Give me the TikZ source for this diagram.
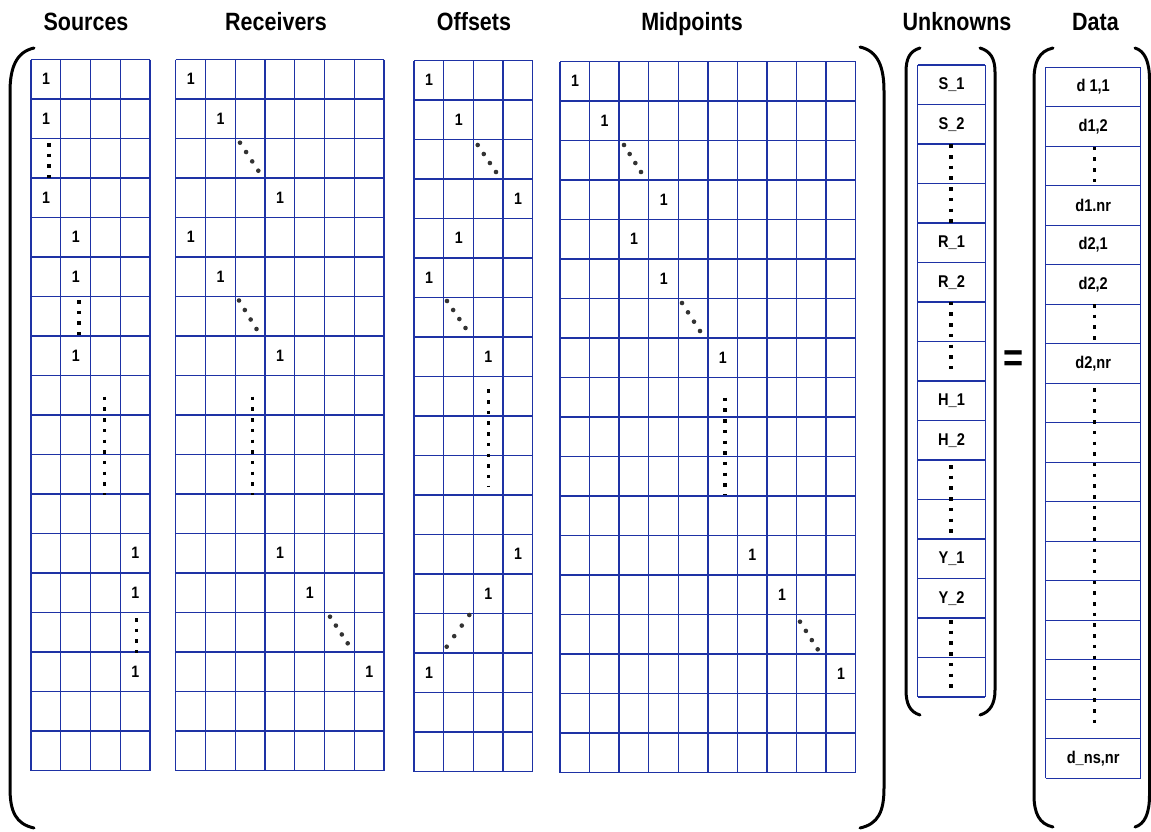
\documentclass[tikz,border=0pt]{standalone}
\usepackage{fontspec}
\setmainfont{Liberation Sans}[FakeStretch=0.86]
\usetikzlibrary{calc}
\definecolor{gridblue}{RGB}{30,50,165}
\newcommand{\diagdots}[2]{\foreach \t in {0,0.333,0.667,1} \fill[black!80] ($#1!\t!#2$) circle (2.3pt);}

\begin{document}
\begin{tikzpicture}[x=1pt, y=-1pt,
  gridline/.style={gridblue, line width=1.3pt},
  brk/.style={line width=3pt, line cap=round},
  vdots/.style={line width=3.5pt, dash pattern=on 3.5pt off 7.2pt},
  head/.style={font=\fontsize{25}{30}\selectfont\bfseries, anchor=base},
  one/.style={font=\fontsize{16.5}{18}\selectfont\bfseries},
  lbl/.style={font=\fontsize{17}{20}\selectfont\bfseries}]
\useasboundingbox (0,0) rectangle (1151,831);

% Headings
\node[head] (hsrc) at (86,30) {Sources};
\node[head] (hrec) at (276,30) {Receivers};
\node[head] (hoff) at (474,30) {Offsets};
\node[head] (hmid) at (692,30) {Midpoints};
\node[head] (hunk) at (957,30) {Unknowns};
\node[head] (hdat) at (1095.5,30) {Data};

% Grids: left/top/columns/rows/column width
\foreach \gx/\gy/\nc/\nr/\cw in {31/59.5/4/18/29.75, 175.7/59.5/7/18/29.75, 414/60.5/4/18/29.7,
    560/61.5/10/18/29.57, 917.7/65/1/16/67.6, 1045.7/67.3/1/18/95} {
  \foreach \i in {0,...,\nc}
    \draw[gridline] (\gx+\i*\cw, \gy) -- (\gx+\i*\cw, \gy+\nr*39.5);
  \foreach \j in {0,...,\nr}
    \draw[gridline] (\gx, \gy+\j*39.5) -- (\gx+\nc*\cw, \gy+\j*39.5);
}

% Sources entries
\foreach \r/\c [count=\k] in {0/0,1/0,3/0,4/1,5/1,7/1,12/3,13/3,15/3}
  \node[one] (s\k) at (31+\c*29.75+15, 59.5+\r*39.5+19.75) {1};
\draw[vdots] (49,143) -- (49,178);
\draw[vdots] (79,300) -- (79,335);
\draw[vdots] (104.5,396.7) -- (104.5,495);
\draw[vdots] (136.7,618) -- (136.7,653);

% Receivers entries
\foreach \r/\c [count=\k] in {0/0,1/1,3/3,4/0,5/1,7/3,12/3,13/4,15/6}
  \node[one] (r\k) at (175.7+\c*29.75+15, 59.5+\r*39.5+19.75) {1};
\diagdots{(240,142.7)}{(258.3,170.7)}
\diagdots{(239,300.5)}{(256.5,329)}
\draw[vdots] (252.3,396.7) -- (252.3,495);
\diagdots{(330,616.7)}{(347.7,643.3)}

% Offsets entries
\foreach \r/\c [count=\k] in {0/0,1/1,3/3,4/1,5/0,7/2,12/3,13/2,15/0}
  \node[one] (o\k) at (414+\c*29.7+15, 60.5+\r*39.5+19.75) {1};
\diagdots{(477.7,145)}{(496,172)}
\diagdots{(447,301)}{(465.5,328)}
\draw[vdots] (488.3,389.3) -- (488.3,487);
\diagdots{(446.7,646.7)}{(469.3,615)}

% Midpoints entries
\foreach \r/\c [count=\k] in {0/0,1/1,3/3,4/2,5/3,7/5,12/6,13/7,15/9}
  \node[one] (m\k) at (560+\c*29.57+15, 61.5+\r*39.5+19.75) {1};
\diagdots{(624,145)}{(641,172)}
\diagdots{(682,303)}{(700,331)}
\draw[vdots] (725,397.7) -- (725,495);
\diagdots{(800,621.7)}{(817.7,649.3)}

% Unknowns vector
\foreach \r/\t [count=\k] in {0/S\_1, 1/S\_2, 4/R\_1, 5/R\_2, 8/H\_1, 9/H\_2, 12/Y\_1, 13/Y\_2}
  \node[lbl] (u\k) at (951.5, 65+\r*39.5+19.75) {\t};
\draw[vdots] (951,144.3) -- (951,224);
\draw[vdots] (951,301.7) -- (951,375);
\draw[vdots] (951,465) -- (951,534);
\draw[vdots] (951,620) -- (951,689);

% Data vector
\foreach \r/\t [count=\k] in {0/{d 1,1}, 1/{d1,2}, 3/{d1.nr}, 4/{d2,1}, 5/{d2,2}, 7/{d2,nr}, 17/{d\_ns,nr}}
  \node[lbl] (d\k) at (1093.2, 67.3+\r*39.5+19.75) {\t};
\draw[vdots] (1094.3,146.7) -- (1094.3,183);
\draw[vdots] (1094.3,304) -- (1094.3,342);
\draw[vdots] (1094.3,388) -- (1094.3,723);

% Equals sign
\node[font=\fontsize{40}{44}\selectfont\bfseries] (eq) at (1014,361) {=};

% Brackets
\draw[brk] (34,48) .. controls (16,52) and (10,68) .. (10,92) -- (10,788) .. controls (10,812) and (16,824) .. (34,828);
\draw[brk] (860,47) .. controls (878,51) and (884,67) .. (884,91) -- (884,788) .. controls (884,812) and (878,824) .. (860,828);
\draw[brk] (920,48) .. controls (910,51) and (906,58) .. (906,72) -- (906,690) .. controls (906,704) and (910,712) .. (920,715);
\draw[brk] (980,48) .. controls (990,51) and (995,58) .. (995,72) -- (995,690) .. controls (995,704) and (990,712) .. (980,715);
\draw[brk] (1053,48) .. controls (1039,51) and (1034,62) .. (1034,80) -- (1034,795) .. controls (1034,813) and (1039,824) .. (1053,827);
\draw[brk] (1135,48) .. controls (1145,51) and (1149.5,62) .. (1149.5,80) -- (1149.5,795) .. controls (1149.5,813) and (1145,824) .. (1135,827);

\end{tikzpicture}
\end{document}
